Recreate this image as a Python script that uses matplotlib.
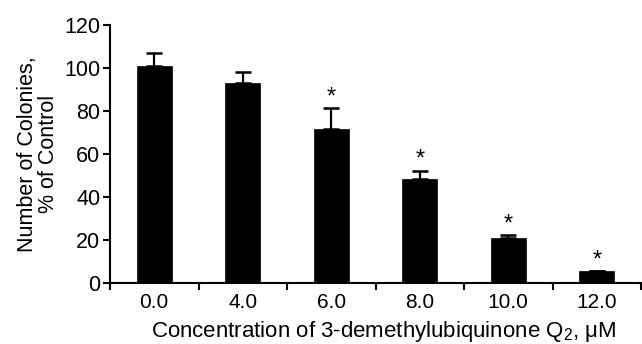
import matplotlib
matplotlib.use("Agg")
import matplotlib.pyplot as plt
import numpy as np

categories = ["0.0", "4.0", "6.0", "8.0", "10.0", "12.0"]
means = [101, 93, 71.5, 48.5, 21, 5.5]
sds = [5.8, 5.2, 9.8, 3.6, 1.2, 0.0]
significant = [False, False, True, True, True, True]
yticks = [0, 20, 40, 60, 80, 100, 120]

plt.rcParams['font.family'] = ['Liberation Sans', 'DejaVu Sans']
plt.rcParams['mathtext.fontset'] = 'custom'
plt.rcParams['mathtext.rm'] = 'Liberation Sans'
plt.rcParams['mathtext.it'] = 'Liberation Sans:italic'

fig = plt.figure(figsize=(6.42, 3.44), dpi=100)
ax = fig.add_axes([110/642, 1-283/344, 531/642, 258/344])

x = np.arange(len(categories))
ax.bar(x, means, width=0.39, color='black', edgecolor='black', linewidth=0.5, zorder=2)
ax.errorbar(x, means, yerr=[np.zeros(len(sds)), sds], fmt='none', ecolor='black',
            elinewidth=1.6, capsize=6, capthick=1.8, zorder=3)

for xi, m, s, sig in zip(x, means, sds, significant):
    if sig:
        ax.annotate('*', xy=(xi, m + s), xytext=(0, 0), textcoords='offset points',
                    ha='center', va='bottom', fontsize=17)

ax.set_xlim(-0.5, len(categories) - 0.5)
ax.set_ylim(0, 120)
ax.set_yticks(yticks)
ax.set_yticklabels([str(t) for t in yticks], fontsize=15.5)
ax.set_xticks(x)
ax.set_xticklabels(categories, fontsize=15)
ax.set_xticks(np.arange(-0.5, len(categories)), minor=True)
ax.tick_params(axis='x', which='major', length=0, pad=7)
ax.tick_params(axis='x', which='minor', length=5, width=1.5, direction='out')
ax.tick_params(axis='y', which='major', length=5, width=1.5, direction='out', pad=2)

for side in ['top', 'right']:
    ax.spines[side].set_visible(False)
for side in ['left', 'bottom']:
    ax.spines[side].set_linewidth(1.5)

ax.set_xlabel("Concentration of 3-demethylubiquinone Q$\\mathregular{_2}$, μM", fontsize=16)
ax.xaxis.label.set_va('center')
ax.xaxis.set_label_coords(0.5 + 8 / 531, -(331 - 283) / 258)
ax.set_ylabel("Number of Colonies,\n% of Control", fontsize=15.5, linespacing=1.0)
ax.yaxis.label.set_va('center')
ax.yaxis.set_label_coords(-(110 - 38) / 531, 0.5)

fig.savefig("out.png", dpi=100)
